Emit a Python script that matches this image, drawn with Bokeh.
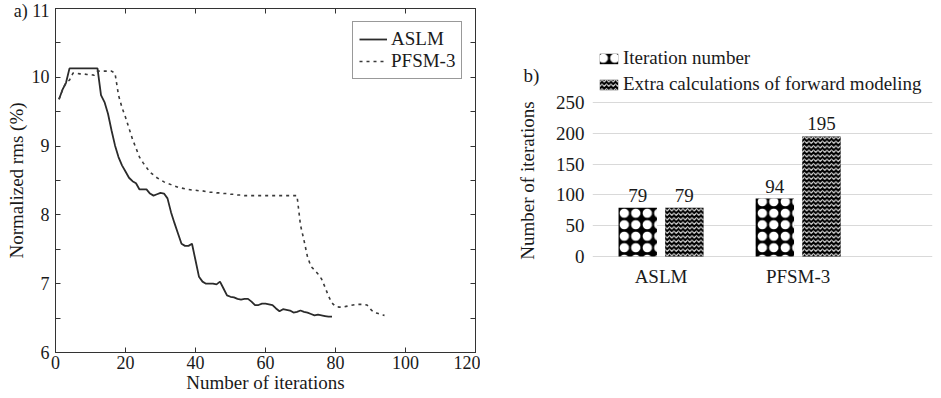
from bokeh.plotting import figure
from bokeh.layouts import row
from bokeh.models import (FixedTicker, LinearAxis, Legend, LegendItem, Label, Range1d)
from bokeh.core.properties import value
from bokeh.embed import file_html
from bokeh.resources import INLINE

FONT = "Liberation Serif"
TXT = "#1a1a1a"

# ---------------- data: panel a ----------------
aslm_iter = list(range(1, 80))
aslm_rms = [9.68, 9.82, 9.92, 10.13, 10.13, 10.13, 10.13, 10.13, 10.13, 10.13,
            10.13, 10.13, 9.74, 9.64, 9.47, 9.23, 9.01, 8.84, 8.72, 8.63,
            8.54, 8.49, 8.46, 8.37, 8.37, 8.37, 8.31, 8.28, 8.30, 8.32,
            8.31, 8.24, 8.04, 7.88, 7.73, 7.58, 7.55, 7.55, 7.58, 7.34,
            7.10, 7.03, 7.00, 7.00, 7.00, 6.99, 7.03, 6.93, 6.83, 6.81,
            6.80, 6.78, 6.77, 6.78, 6.78, 6.74, 6.69, 6.69, 6.71, 6.71,
            6.70, 6.69, 6.64, 6.60, 6.63, 6.62, 6.61, 6.58, 6.59, 6.61,
            6.59, 6.58, 6.56, 6.54, 6.55, 6.54, 6.53, 6.52, 6.52]
pfsm_iter = list(range(1, 95))
pfsm_rms = [9.68, 9.82, 9.92, 9.96, 10.06, 10.06, 10.05, 10.05, 10.04, 10.04,
            10.03, 10.09, 10.09, 10.09, 10.09, 10.09, 10.06, 9.74, 9.56, 9.42,
            9.26, 9.10, 8.97, 8.84, 8.76, 8.69, 8.62, 8.58, 8.54, 8.51,
            8.48, 8.46, 8.44, 8.42, 8.40, 8.39, 8.38, 8.37, 8.36, 8.36,
            8.35, 8.35, 8.34, 8.33, 8.33, 8.32, 8.32, 8.31, 8.31, 8.30,
            8.30, 8.29, 8.29, 8.28, 8.28, 8.28, 8.28, 8.28, 8.28, 8.28,
            8.28, 8.28, 8.28, 8.28, 8.28, 8.28, 8.28, 8.28, 8.28, 7.85,
            7.63, 7.39, 7.25, 7.20, 7.14, 7.07, 6.95, 6.82, 6.72, 6.67,
            6.66, 6.66, 6.67, 6.68, 6.69, 6.70, 6.70, 6.70, 6.69, 6.63,
            6.58, 6.57, 6.55, 6.54]
x_ticks_a = [0, 20, 40, 60, 80, 100, 120]
y_ticks_a = [6, 7, 8, 9, 10, 11]
y_minor_a = [6.5, 7.5, 8.5, 9.5, 10.5]

# ---------------- data: panel b ----------------
methods = ["ASLM", "PFSM-3"]
iteration_number = [79, 94]
extra_calcs = [79, 195]
series_b = ["Iteration number", "Extra calculations of forward modeling"]
y_ticks_b = [0, 50, 100, 150, 200, 250]

# ---------------- shared layout geometry (pixels) ----------------
FIG_H = 398
TOP_B = 8
BOT_B = 46
frame_top_px = TOP_B
frame_bot_px = FIG_H - BOT_B

# ================= panel a =================
pa = figure(width=480, height=FIG_H, x_range=Range1d(0, 120), y_range=Range1d(6, 11),
            output_backend="svg", toolbar_location=None,
            min_border_left=55, min_border_right=5, min_border_top=TOP_B,
            min_border_bottom=BOT_B)
pa.grid.visible = False
pa.outline_line_color = "#333333"
pa.background_fill_color = "white"

def style_axis(ax, labels=True):
    ax.axis_line_color = "#333333"
    ax.major_tick_line_color = "#333333"
    ax.minor_tick_line_color = "#333333"
    ax.major_tick_in = 5
    ax.major_tick_out = 0
    ax.minor_tick_in = 5
    ax.minor_tick_out = 0
    ax.major_label_text_font = FONT
    ax.major_label_text_color = TXT
    ax.axis_label_text_font = FONT
    ax.axis_label_text_color = TXT
    ax.axis_label_text_font_style = "normal"
    if not labels:
        ax.major_label_text_font_size = "0px"
        ax.major_label_standoff = 0

xa = pa.xaxis[0]
xa.ticker = FixedTicker(ticks=x_ticks_a)
style_axis(xa)
xa.major_label_text_font_size = "18px"
xa.major_label_standoff = 3
xa.axis_label = "Number of iterations"
xa.axis_label_text_font_size = "19px"
xa.axis_label_standoff = 0

ya = pa.yaxis[0]
ya.ticker = FixedTicker(ticks=y_ticks_a, minor_ticks=y_minor_a)
style_axis(ya)
ya.major_label_text_font_size = "18px"
ya.major_label_standoff = 6
ya.major_label_overrides = {11: "a) 11"}
ya.axis_label = "Normalized rms (%)"
ya.axis_label_text_font_size = "19px"
ya.axis_label_standoff = -16

top_ax = LinearAxis(ticker=FixedTicker(ticks=x_ticks_a))
style_axis(top_ax, labels=False)
pa.add_layout(top_ax, "above")
right_ax = LinearAxis(ticker=FixedTicker(ticks=y_ticks_a, minor_ticks=y_minor_a))
style_axis(right_ax, labels=False)
pa.add_layout(right_ax, "right")

r1 = pa.line(aslm_iter, aslm_rms, line_color="#2b2b2b", line_width=1.8)
r2 = pa.line(pfsm_iter, pfsm_rms, line_color="#3a3a3a", line_width=1.6, line_dash="3 4")

# legend box: left edge at x 352, bottom at y 79
leg_a = Legend(items=[LegendItem(label="ASLM", renderers=[r1]),
                      LegendItem(label="PFSM-3", renderers=[r2])],
               location=(352 - 55, frame_bot_px - 79))
leg_a.margin = 0
leg_a.padding = 6
leg_a.spacing = 0
leg_a.glyph_width = 28
leg_a.label_standoff = 4
leg_a.label_text_font = FONT
leg_a.label_text_font_size = "19px"
leg_a.label_text_color = TXT
leg_a.border_line_color = "#333333"
leg_a.border_line_width = 1
leg_a.background_fill_color = "white"
leg_a.background_fill_alpha = 1
pa.add_layout(leg_a, "center")

# ================= panel b =================
# frame spans the same vertical extent as panel a; the value axis is mapped so that
# 250 sits at y 102 and 0 at y 256 (as in the reference)
y250_px = 102
y0_px = 256
ppu = (y0_px - y250_px) / 250.0
yb_lo = 0 - (frame_bot_px - y0_px) / ppu
yb_hi = 250 + (y250_px - frame_top_px) / ppu

pb = figure(width=461, height=FIG_H, x_range=Range1d(0, 2.48), y_range=Range1d(yb_lo, yb_hi),
            output_backend="svg", toolbar_location=None,
            min_border_left=112, min_border_right=9, min_border_top=TOP_B,
            min_border_bottom=BOT_B)
pb.outline_line_color = None
pb.xgrid.visible = False
pb.ygrid.grid_line_color = "#d9d9d9"
pb.ygrid.grid_line_width = 1
pb.ygrid.ticker = FixedTicker(ticks=y_ticks_b)

yb = pb.yaxis[0]
yb.ticker = FixedTicker(ticks=y_ticks_b)
yb.axis_line_color = None
yb.major_tick_line_color = None
yb.minor_tick_line_color = None
yb.major_label_text_font = FONT
yb.major_label_text_font_size = "19px"
yb.major_label_text_color = TXT
yb.major_label_standoff = 2
yb.axis_label = "Number of iterations"
yb.axis_label_text_font = FONT
yb.axis_label_text_font_size = "19px"
yb.axis_label_text_font_style = "normal"
yb.axis_label_text_color = TXT
yb.axis_label_standoff = 15

centers = [i + 0.5 for i in range(len(methods))]
xb = pb.xaxis[0]
xb.fixed_location = 0
xb.ticker = FixedTicker(ticks=centers)
xb.major_label_overrides = {c: m for c, m in zip(centers, methods)}
xb.axis_line_color = None
xb.major_tick_line_color = None
xb.minor_tick_line_color = None
xb.major_label_text_font = FONT
xb.major_label_text_font_size = "19px"
xb.major_label_text_color = TXT
xb.major_label_standoff = 3

off = 0.17
bw = 0.28
x_iter = [c - off for c in centers]
x_extra = [c + off for c in centers]
# dotted bars: white rings + white centre dots on black -> large white discs
rb1 = pb.vbar(x=x_iter, top=iteration_number, width=bw,
              fill_color="black", line_color=None,
              hatch_pattern="ring", hatch_color="white", hatch_scale=11.5, hatch_weight=3.5)
rb1b = pb.vbar(x=x_iter, top=iteration_number, width=bw,
               fill_alpha=0, line_color=None,
               hatch_pattern="dot", hatch_color="white", hatch_scale=11.5, hatch_weight=1)
rb2 = pb.vbar(x=x_extra, top=extra_calcs, width=bw,
              fill_color="black", line_color=None,
              hatch_pattern="horizontal_wave", hatch_color="white", hatch_scale=4.5, hatch_weight=1)

pb.text(x=x_iter, y=iteration_number, text=[str(v) for v in iteration_number],
        text_align="center", text_baseline="bottom", y_offset=-6,
        text_font=value(FONT), text_font_size="19px", text_color=TXT)
pb.text(x=x_extra, y=extra_calcs, text=[str(v) for v in extra_calcs],
        text_align="center", text_baseline="bottom", y_offset=-6,
        text_font=value(FONT), text_font_size="19px", text_color=TXT)

leg_b = Legend(items=[LegendItem(label=series_b[0], renderers=[rb1, rb1b]),
                      LegendItem(label=series_b[1], renderers=[rb2])],
               location=(5, frame_bot_px - 95))
leg_b.margin = 0
leg_b.padding = 0
leg_b.spacing = 4
leg_b.glyph_width = 23
leg_b.glyph_height = 13
leg_b.label_standoff = 3
leg_b.label_text_font = FONT
leg_b.label_text_font_size = "19px"
leg_b.label_text_color = TXT
leg_b.border_line_color = None
leg_b.background_fill_alpha = 0
pb.add_layout(leg_b, "center")

# "b)" lives in the left side panel so it is not clipped to the frame
pb.add_layout(Label(x=0, y=250, x_offset=-69, y_offset=27, text="b)", text_align="left",
                    text_baseline="middle", text_font=FONT, text_font_size="19px",
                    text_color=TXT), "left")

layout = row(pa, pb)
open("out.html", "w").write(file_html(layout, INLINE))
